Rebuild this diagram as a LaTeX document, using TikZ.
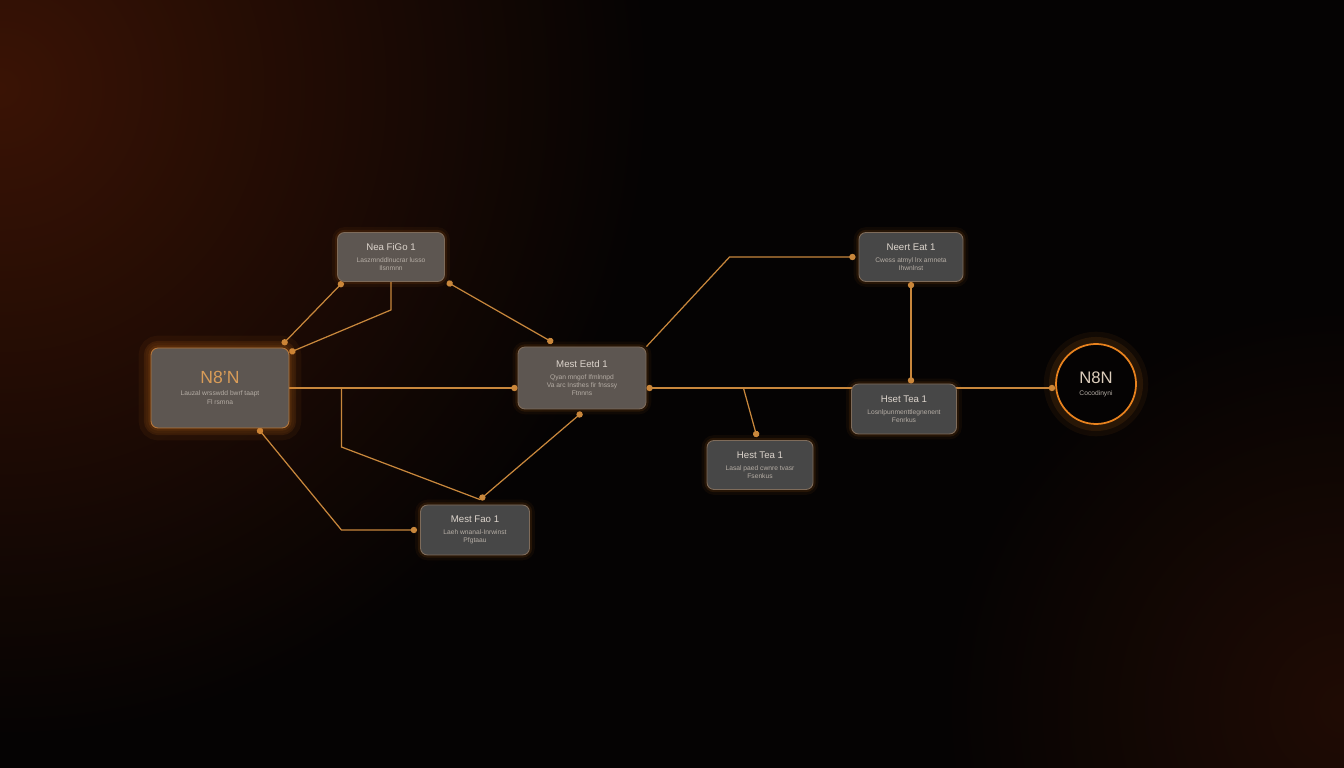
\documentclass[tikz,border=0pt]{standalone}
\usepackage{fontspec}
\setmainfont{Liberation Sans}
\usetikzlibrary{positioning,arrows.meta,backgrounds,calc}

\definecolor{bgc}{HTML}{050303}
\definecolor{ember}{HTML}{3A1305}
\definecolor{wire}{HTML}{C8873C}
\definecolor{glowc}{HTML}{E8821E}
\definecolor{warmbox}{HTML}{5D5651}
\definecolor{darkbox}{HTML}{474747}
\definecolor{edgec}{HTML}{7E6B5A}
\definecolor{ttlc}{HTML}{DDD5CD}
\definecolor{subc}{HTML}{B5ADA5}
\definecolor{ntl}{HTML}{D99C58}

\newcommand{\ttl}{\fontsize{5.5}{6.5}\selectfont\color{ttlc}}
\newcommand{\sbt}{\fontsize{3.8}{4.6}\selectfont\color{subc}}
\newcommand{\bigttl}{\fontsize{10}{11}\selectfont\color{ntl}}

\tikzset{
	card/.style={rounded corners=4pt,draw=edgec,line width=0.5pt,align=center,inner sep=2pt,
		font=\fontsize{3.8}{4.8}\selectfont,
		preaction={draw=glowc,line width=6pt,opacity=0.05},
		preaction={draw=glowc,line width=3pt,opacity=0.10}},
	warm/.style={card,fill=warmbox},
	dark/.style={card,fill=darkbox},
	hot/.style={preaction={draw=glowc,line width=14pt,opacity=0.06},
		preaction={draw=glowc,line width=8pt,opacity=0.10}},
	wirel/.style={draw=wire,line width=0.7pt},
	dots/.style={{Circle[length=3.6pt]}-{Circle[length=3.6pt]}},
	dotend/.style={-{Circle[length=3.6pt]}},
}

\begin{document}
\begin{tikzpicture}[node distance=2cm,on grid]
	\useasboundingbox (0,0) rectangle (26.88,15.36);
	\node[warm,hot,draw=glowc!50!edgec,minimum width=2.76cm,minimum height=1.6cm] (N) at (4.40,7.60)
		{{\bigttl N8'N}\\[2pt]{\sbt Lauzal wrsswdd bwrf taapt}\\{\sbt Fl rsmna}};
	\node[warm,minimum width=2.14cm,minimum height=0.98cm,above right=2.62cm and 3.42cm of N] (A)
		{{\ttl Nea FiGo 1}\\[2pt]{\sbt Laszmnddlnucrar lusso}\\{\sbt Ilsnmnn}};
	\node[warm,minimum width=2.56cm,minimum height=1.24cm,above right=0.2cm and 7.24cm of N] (B)
		{{\ttl Mest Eetd 1}\\[2pt]{\sbt Qyan mngof Ifmlnnpd}\\{\sbt Va arc Insthes fir fnsssy}\\{\sbt Ftnnns}};
	\node[dark,minimum width=2.18cm,minimum height=1.0cm,below right=2.84cm and 5.1cm of N] (C)
		{{\ttl Mest Fao 1}\\[2pt]{\sbt Laeh wnanal-Inrwinst}\\{\sbt Pfgtaau}};
	\node[dark,minimum width=2.12cm,minimum height=0.98cm,below right=1.74cm and 3.56cm of B] (F)
		{{\ttl Hest Tea 1}\\[2pt]{\sbt Lasal paed cwnre tvasr}\\{\sbt Fsenkus}};
	\node[dark,minimum width=2.1cm,minimum height=1.0cm,below right=0.62cm and 6.44cm of B] (E)
		{{\ttl Hset Tea 1}\\[2pt]{\sbt Losnlpunmenttlegnenent}\\{\sbt Fenrkus}};
	\node[dark,minimum width=2.08cm,minimum height=0.98cm,above right=3.04cm and 0.14cm of E] (D)
		{{\ttl Neert Eat 1}\\[2pt]{\sbt Cwess atmyl lrx arnneta}\\{\sbt Ihwnlnst}};
	\node[circle,hot,draw=glowc,line width=1pt,fill=bgc,minimum size=1.6cm,align=center,
		font=\fontsize{3.8}{4.8}\selectfont,above right=0.5cm and 3.84cm of E] (G)
		{{\fontsize{9.5}{10.5}\selectfont\color{ttlc!85!ntl} N8N}\\[2pt]{\sbt Cocodinyni}};
	\coordinate (j1) at ($(N.east)+(1.04,0)$);
	\coordinate (j2) at ($(N.east -| B.east)+(1.94,0)$);
	\begin{scope}[on background layer]
		\clip (0,0) rectangle (26.88,15.36);
		\fill[bgc] (0,0) rectangle (26.88,15.36);
		\shade[inner color=ember,outer color=bgc] (0,13.6) circle (13cm);
		\shade[inner color=ember!50!bgc,outer color=bgc] (26.88,1.2) circle (8cm);
		% wires
		\draw[wirel,dots] ([xshift=0.12cm]A.south west) -- ([xshift=-0.14cm,yshift=0.06cm]N.north east);
		\draw[wirel,dotend] (A.south) -- ++(0,-0.56) -- ([yshift=-0.1cm]N.north east);
		\draw[wirel,dots] ([xshift=0.04cm]A.south east) -- ([xshift=-0.58cm,yshift=0.08cm]B.north);
		\draw[wirel,dotend] (N.east) -- (N.east -| B.west);
		\draw[wirel] (j1) -- ++(0,-1.18) -- ([xshift=0.1cm,yshift=0.1cm]C.north);
		\draw[wirel,dots] ([xshift=0.1cm,yshift=0.1cm]C.north) -- ([yshift=-0.06cm]B.south);
		\draw[wirel,dots] ([xshift=0.76cm]N.south) -- (j1 |- C.west) -- ([xshift=-0.06cm]C.west);
		\draw[wirel,dotend] (B.north east) -- ([xshift=-2.58cm]D.west) -- ([xshift=-0.06cm]D.west);
		\draw[wirel,dots] (N.east -| B.east) -- (N.east -| G.west);
		\draw[wirel,dotend] (j2) -- ([xshift=-0.06cm,yshift=0.06cm]F.north);
		\draw[wirel,dots] (D.south) -- (D.south |- E.north);
	\end{scope}
\end{tikzpicture}
\end{document}
